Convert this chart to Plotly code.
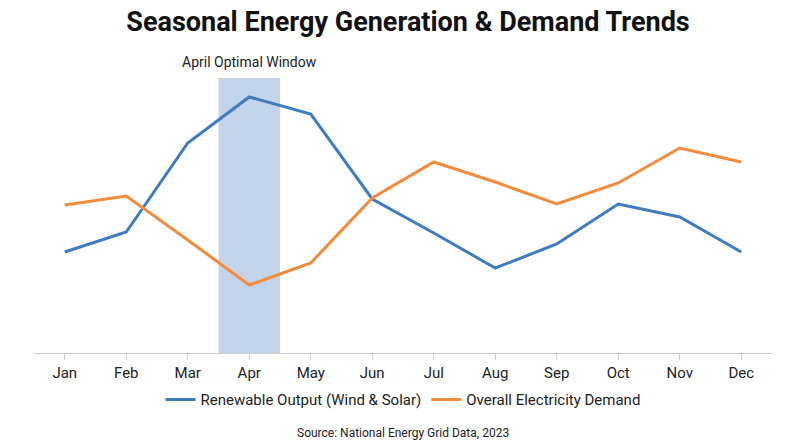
import plotly.graph_objects as go

months = ["Jan", "Feb", "Mar", "Apr", "May", "Jun", "Jul", "Aug", "Sep", "Oct", "Nov", "Dec"]
renewable = [101, 121, 210, 256, 239, 154, 120, 85, 109, 149, 136, 101]
demand = [148, 157, 113, 68, 90, 155, 191, 171, 149, 170, 205, 191]

fig = go.Figure()
fig.add_trace(go.Scatter(x=months, y=renewable, mode="lines", name="Renewable Output (Wind & Solar)",
                         line=dict(color="#3f7cbf", width=3)))
fig.add_trace(go.Scatter(x=months, y=demand, mode="lines", name="Overall Electricity Demand",
                         line=dict(color="#f28b3c", width=3)))

fig.add_vrect(x0=2.5, x1=3.5, fillcolor="#b8cce6", opacity=0.85, line_width=0, layer="below")
fig.add_annotation(x=3, y=1, yref="paper", yanchor="bottom", text="April Optimal Window",
                   showarrow=False, font=dict(size=14, color="#222"), yshift=6)

fig.update_layout(
    width=800, height=447,
    margin=dict(l=26, r=36, t=70, b=102),
    plot_bgcolor="white", paper_bgcolor="white",
    font=dict(family="Roboto, Arial, sans-serif", color="#222"),
    title=dict(text="<b>Seasonal Energy Generation & Demand Trends</b>", x=0.5, y=0.97,
               xanchor="center", yanchor="middle", font=dict(size=27, color="#111")),
    xaxis=dict(showgrid=False, showline=True, linecolor="#ccc", ticks="outside", tickcolor="#ccc",
               ticklen=6, tickfont=dict(size=15), range=[-0.5, 11.5]),
    yaxis=dict(visible=False, range=[0, 275]),
    legend=dict(orientation="h", x=0.5, xanchor="center", y=-0.17, yanchor="middle",
                font=dict(size=15)),
    showlegend=True,
)
fig.add_annotation(x=0.5, y=-0.29, xref="paper", yref="paper", text="Source: National Energy Grid Data, 2023",
                   showarrow=False, font=dict(size=12, color="#222"), yanchor="middle")

fig.write_html("out.html")
